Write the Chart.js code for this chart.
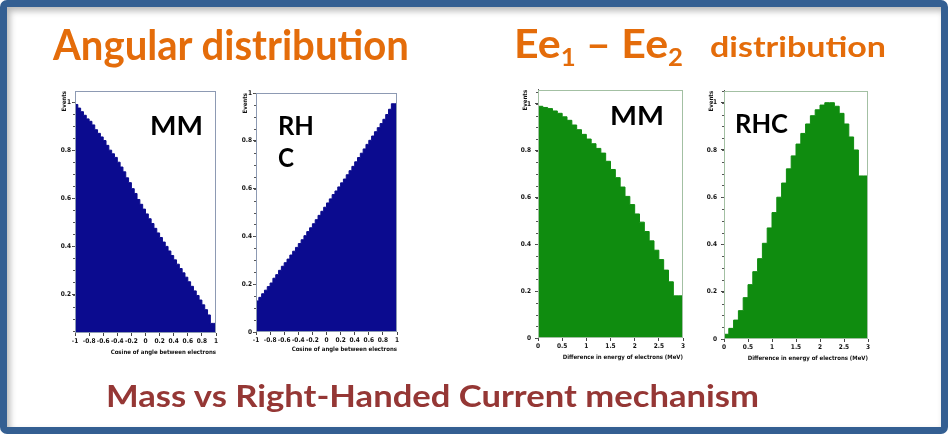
<!DOCTYPE html>
<html>
<head>
<meta charset="utf-8">
<script src="https://cdn.jsdelivr.net/npm/chart.js@4/dist/chart.umd.min.js"></script>
<style>
  html, body { margin: 0; padding: 0; background: #fff; }
  #slide {
    position: relative; width: 948px; height: 434px; box-sizing: border-box;
    border: 7px solid #345f92; border-radius: 7px; background: #fff;
    box-shadow: inset 3px 4px 6px rgba(0,0,0,0.28);
    overflow: hidden;
  }
  .panel { position: absolute; }
  .panel canvas { display: block; }
  svg.labels { position: absolute; left: 0; top: 0; pointer-events: none; }
  svg.labels text { font-family: Lato, 'Open Sans', sans-serif; font-weight: bold; }
</style>
</head>
<body>
<div id="slide">
  <div class="panel" style="left:50px;top:78px"><canvas id="mmAngle" width="165" height="271"></canvas></div>
  <div class="panel" style="left:231px;top:80px"><canvas id="rhcAngle" width="165" height="266"></canvas></div>
  <div class="panel" style="left:511px;top:75px"><canvas id="mmEnergy" width="171" height="279"></canvas></div>
  <div class="panel" style="left:697px;top:76px"><canvas id="rhcEnergy" width="170" height="279"></canvas></div>
</div>
<svg class="labels" width="948" height="434">
  <text x="53" y="60" font-size="42" fill="#e46c0a" textLength="356" lengthAdjust="spacingAndGlyphs">Angular distribution</text>
  <text x="514" y="58" font-size="40" fill="#e46c0a" textLength="169" lengthAdjust="spacingAndGlyphs">Ee<tspan dy="8" font-size="24">1</tspan><tspan dy="-8"> – Ee</tspan><tspan dy="8" font-size="24">2</tspan></text>
  <text x="710" y="57" font-size="29" fill="#e46c0a" textLength="176" lengthAdjust="spacingAndGlyphs">distribution</text>
  <text x="106" y="407" font-size="31" fill="#953735" textLength="653" lengthAdjust="spacingAndGlyphs">Mass vs Right-Handed Current mechanism</text>
  <text x="150" y="135" font-size="26" fill="#000" textLength="53" lengthAdjust="spacingAndGlyphs">MM</text>
  <text x="278" y="135" font-size="26" fill="#000" textLength="36" lengthAdjust="spacingAndGlyphs">RH</text>
  <text x="278" y="167" font-size="26" fill="#000" textLength="16" lengthAdjust="spacingAndGlyphs">C</text>
  <text x="610" y="125" font-size="26" fill="#000" textLength="54" lengthAdjust="spacingAndGlyphs">MM</text>
  <text x="735" y="133" font-size="26" fill="#000" textLength="53" lengthAdjust="spacingAndGlyphs">RHC</text>
</svg>
<script>
// histogram ranges and tick labels
const cosRange = [-1, 1];
const energyRange = [0, 3];
const cosTicks = [-1, -0.8, -0.6, -0.4, -0.2, 0, 0.2, 0.4, 0.6, 0.8, 1];
const energyTicks = [0, 0.5, 1, 1.5, 2, 2.5, 3];
const eventTicks = [0, 0.2, 0.4, 0.6, 0.8, 1];
const eventMinorStep = 0.05;

// normalised bin contents (50 bins in cos, 30 bins in energy)
const mmAngular = [1.00, 0.99, 0.975, 0.96, 0.945, 0.93, 0.92, 0.905, 0.885, 0.87,
  0.855, 0.84, 0.82, 0.80, 0.785, 0.77, 0.75, 0.73, 0.71, 0.685,
  0.665, 0.64, 0.62, 0.595, 0.575, 0.555, 0.535, 0.515, 0.495, 0.475,
  0.456, 0.437, 0.418, 0.40, 0.381, 0.362, 0.344, 0.326, 0.308, 0.29,
  0.272, 0.253, 0.234, 0.215, 0.196, 0.177, 0.157, 0.137, 0.115, 0.08];
const rhcAngular = [0.115, 0.13, 0.145, 0.16, 0.175, 0.19, 0.205, 0.225, 0.24, 0.258,
  0.275, 0.29, 0.305, 0.322, 0.338, 0.354, 0.37, 0.386, 0.403, 0.42,
  0.436, 0.453, 0.47, 0.488, 0.505, 0.522, 0.54, 0.557, 0.575, 0.59,
  0.607, 0.624, 0.64, 0.658, 0.675, 0.693, 0.712, 0.73, 0.748, 0.766,
  0.785, 0.802, 0.82, 0.838, 0.855, 0.872, 0.89, 0.91, 0.932, 0.955];
const mmEnergy = [1.0, 0.99, 0.985, 0.98, 0.97, 0.96, 0.945, 0.93, 0.91, 0.89,
  0.87, 0.85, 0.83, 0.81, 0.79, 0.755, 0.72, 0.685, 0.645, 0.605,
  0.57, 0.53, 0.495, 0.455, 0.415, 0.375, 0.335, 0.29, 0.24, 0.18];
const rhcEnergy = [0.005, 0.02, 0.045, 0.08, 0.12, 0.175, 0.23, 0.285, 0.34, 0.405,
  0.47, 0.535, 0.6, 0.66, 0.72, 0.775, 0.825, 0.87, 0.91, 0.945,
  0.97, 0.99, 1.0, 1.0, 0.985, 0.955, 0.91, 0.855, 0.8, 0.69];

const NAVY = '#0b0b8f';
const GREEN = '#0f8c0f';

// outline around the plot area plus small minor ticks on the y axis
const framePlugin = {
  id: 'frame',
  afterDatasetsDraw(chart, args, opts) {
    const { ctx, chartArea: a, scales } = chart;
    ctx.save();
    ctx.strokeStyle = opts.color;
    ctx.lineWidth = 1;
    ctx.strokeRect(Math.round(a.left) + 0.5, Math.round(a.top) + 0.5,
      Math.round(a.width) - 1, Math.round(a.height) - 1);
    const y = scales.y;
    ctx.strokeStyle = '#555';
    ctx.beginPath();
    for (let v = 0; v <= y.max + 1e-9; v += eventMinorStep) {
      if (v < y.min) continue;
      const py = Math.round(y.getPixelForValue(v)) + 0.5;
      ctx.moveTo(a.left - 2, py);
      ctx.lineTo(a.left, py);
    }
    ctx.stroke();
    ctx.restore();
  }
};

// turn bin contents into step points at the bin edges
function histPoints(range, values) {
  const [lo, hi] = range;
  const w = (hi - lo) / values.length;
  const pts = values.map((v, i) => ({ x: lo + i * w, y: v }));
  pts.push({ x: hi, y: values[values.length - 1] });
  return pts;
}

const tickFont = { family: "'Liberation Sans Narrow', 'DejaVu Sans Condensed', sans-serif", size: 6.5, weight: 'bold' };
const titleFont = { family: "'Liberation Sans Narrow', 'DejaVu Sans Condensed', sans-serif", size: 6, weight: 'bold' };
const fmt = v => String(+Number(v).toFixed(2));

function drawHist(id, o) {
  new Chart(document.getElementById(id), {
    type: 'line',
    data: {
      datasets: [{
        data: histPoints(o.range, o.values),
        stepped: 'after',
        fill: 'start',
        backgroundColor: o.color,
        borderColor: o.color,
        borderWidth: 1,
        pointRadius: 0
      }]
    },
    options: {
      responsive: false,
      animation: false,
      events: [],
      layout: { padding: { top: o.padTop, right: 6, left: 0, bottom: 0 } },
      plugins: { legend: { display: false }, tooltip: { enabled: false }, frame: { color: o.frame } },
      scales: {
        x: {
          type: 'linear', min: o.range[0], max: o.range[1],
          afterBuildTicks: ax => { ax.ticks = o.xTicks.map(v => ({ value: v })); },
          afterFit: ax => { ax.height = o.xHeight; },
          ticks: { autoSkip: false, maxRotation: 0, padding: 1, font: tickFont, color: '#111', callback: fmt },
          grid: { drawOnChartArea: false, tickLength: 3, tickColor: '#444' },
          border: { display: false },
          title: { display: true, text: o.xTitle, align: 'end', padding: 0, font: titleFont, color: '#111' }
        },
        y: {
          min: o.yMin, max: o.yMax,
          afterBuildTicks: ax => {
            ax.ticks = eventTicks.filter(v => v >= o.yMin && v <= o.yMax).map(v => ({ value: v }));
          },
          afterFit: ax => { ax.width = o.yWidth; },
          ticks: { padding: o.yPad, font: tickFont, color: '#111', callback: fmt },
          grid: { drawOnChartArea: false, tickLength: 3, tickColor: '#444' },
          border: { color: '#555' },
          title: { display: true, text: 'Events', align: 'end', padding: { top: 4, bottom: 0 }, font: titleFont, color: '#111' }
        }
      }
    },
    plugins: [framePlugin]
  });
}

const cosTitle = 'Cosine of angle between electrons';
const energyTitle = 'Difference in energy of electrons (MeV)';

drawHist('mmAngle', { range: cosRange, values: mmAngular, color: NAVY, frame: '#8d9ab3',
  xTicks: cosTicks, xTitle: cosTitle, yMin: 0.04, yMax: 1.046,
  padTop: 6, xHeight: 23, yWidth: 18, yPad: 1 });
drawHist('rhcAngle', { range: cosRange, values: rhcAngular, color: NAVY, frame: '#8d9ab3',
  xTicks: cosTicks, xTitle: cosTitle, yMin: 0, yMax: 1.0,
  padTop: 6, xHeight: 21, yWidth: 18, yPad: 1 });
drawHist('mmEnergy', { range: energyRange, values: mmEnergy, color: GREEN, frame: '#a3c0a3',
  xTicks: energyTicks, xTitle: energyTitle, yMin: 0, yMax: 1.06,
  padTop: 6, xHeight: 23, yWidth: 20, yPad: 4 });
drawHist('rhcEnergy', { range: energyRange, values: rhcEnergy, color: GREEN, frame: '#a3c0a3',
  xTicks: energyTicks, xTitle: energyTitle, yMin: 0, yMax: 1.05,
  padTop: 6, xHeight: 23, yWidth: 20, yPad: 4 });
</script>
</body>
</html>
